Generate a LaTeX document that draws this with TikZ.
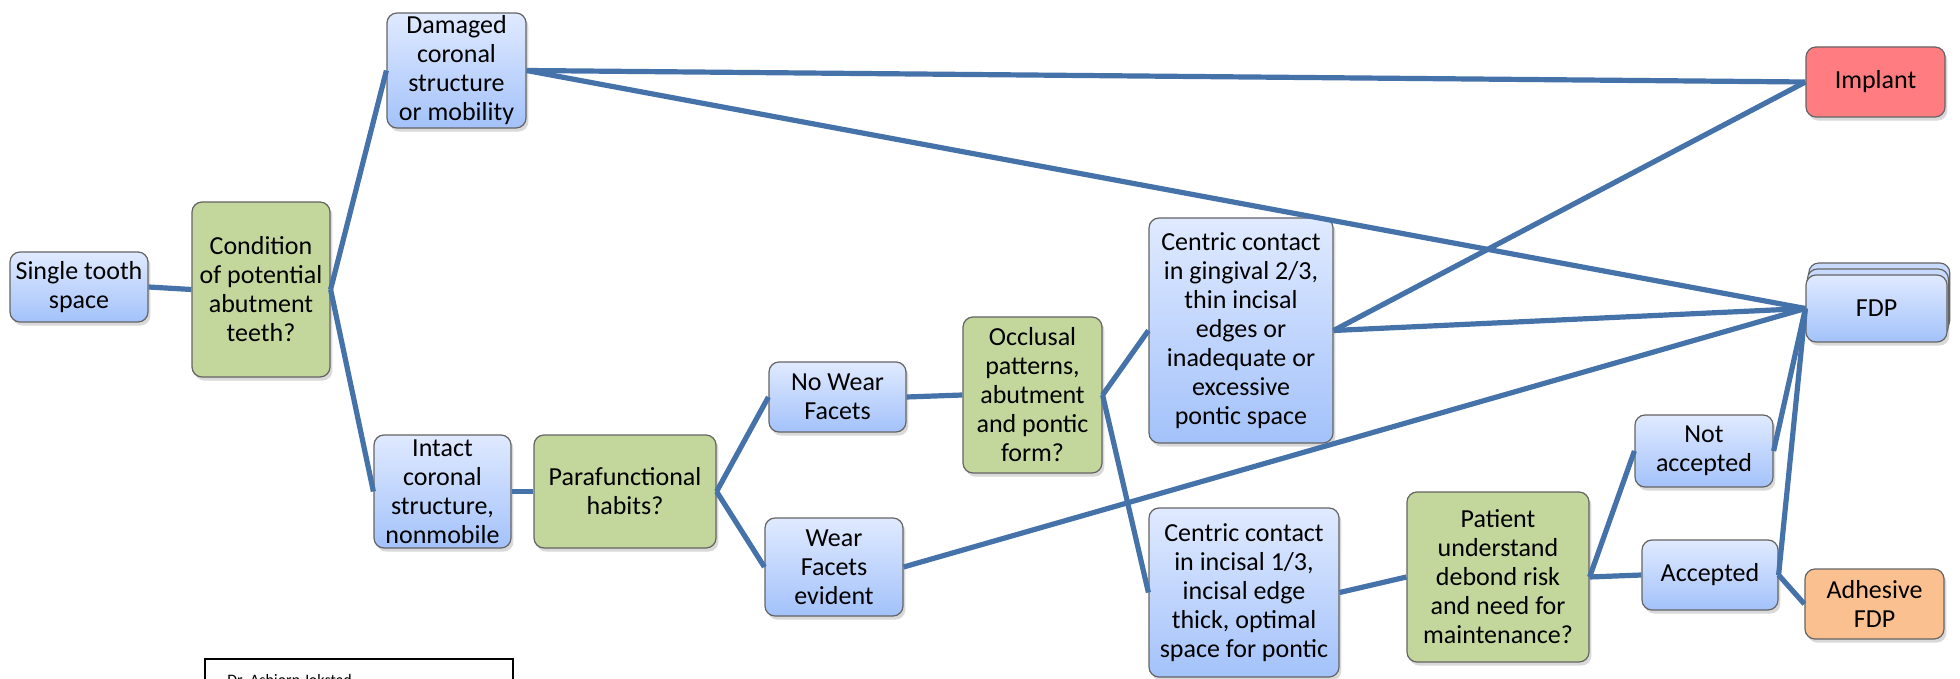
\documentclass[tikz,border=0pt]{standalone}
\usepackage{fontspec}
\setmainfont{Carlito}
\usetikzlibrary{shadows}
\definecolor{boxTop}{RGB}{224,234,255}
\definecolor{boxBottom}{RGB}{163,194,250}
\definecolor{questionGreen}{RGB}{195,214,155}
\definecolor{implantRed}{RGB}{255,124,128}
\definecolor{adhesiveOrange}{RGB}{250,192,144}
\definecolor{linkBlue}{RGB}{70,114,170}
\definecolor{rimGray}{RGB}{100,100,100}
\tikzset{
  box/.style={draw=rimGray, line width=0.6pt, rounded corners=5pt, align=center, inner sep=0pt,
    font=\fontsize{13}{14.5}\selectfont,
    drop shadow={shadow xshift=1.2pt, shadow yshift=-1.8pt, opacity=0.3}},
  answer/.style={box, top color=boxTop, bottom color=boxBottom},
  question/.style={box, fill=questionGreen},
  result/.style={box, fill=#1},
  link/.style={draw=linkBlue, line width=2.6pt},
}
\begin{document}
\begin{tikzpicture}[x=0.5pt, y=-0.5pt]
    \clip (0, 0) rectangle (1960, 679);
    \node[answer, minimum width=69pt, minimum height=35pt] (single) at (79, 287) {Single tooth\\space};
    \node[question, minimum width=69pt, minimum height=87.5pt] (condition) at (261, 289.5) {Condition\\of potential\\abutment\\teeth?};
    \node[answer, minimum width=69.5pt, minimum height=57.5pt] (damaged) at (456.5, 70.5) {Damaged\\coronal\\structure\\or mobility};
    \node[answer, minimum width=68.5pt, minimum height=56.5pt] (intact) at (442.5, 491.5) {Intact\\coronal\\structure,\\nonmobile};
    \node[question, minimum width=91pt, minimum height=56.5pt] (parafunc) at (625, 491.5) {Parafunctional\\habits?};
    \node[answer, minimum width=68.5pt, minimum height=35pt] (nowear) at (837.5, 397) {No Wear\\Facets};
    \node[answer, minimum width=69pt, minimum height=49pt] (wear) at (834, 567) {Wear\\Facets\\evident};
    \node[question, minimum width=69.5pt, minimum height=78pt] (occlusal) at (1032.5, 395) {Occlusal\\patterns,\\abutment\\and pontic\\form?};
    \node[answer, minimum width=92pt, minimum height=112.5pt] (gingival) at (1241, 330.5) {Centric contact\\in gingival 2/3,\\thin incisal\\edges or\\inadequate or\\excessive\\pontic space};
    \node[answer, minimum width=95pt, minimum height=84.5pt] (incisal) at (1244, 592.5) {Centric contact\\in incisal 1/3,\\incisal edge\\thick, optimal\\space for pontic};
    \node[question, minimum width=91pt, minimum height=85pt] (patient) at (1498, 577) {Patient\\understand\\debond risk\\and need for\\maintenance?};
    \node[answer, minimum width=69pt, minimum height=36pt] (notacc) at (1704, 451) {Not\\accepted};
    \node[answer, minimum width=68pt, minimum height=35pt] (accepted) at (1710, 575) {Accepted};
    \node[result=adhesiveOrange, minimum width=69.5pt, minimum height=35pt] (adhesive) at (1874.5, 604) {Adhesive\\FDP};
    \node[result=implantRed, minimum width=69.5pt, minimum height=35pt] (implant) at (1875.5, 82) {Implant};
    \node[answer, minimum width=70.5pt, minimum height=33.5pt,
      copy shadow={shadow xshift=1.4pt, shadow yshift=6pt, fill=boxTop!60!boxBottom, draw=rimGray},
      copy shadow={shadow xshift=0.7pt, shadow yshift=3pt, fill=boxTop!60!boxBottom, draw=rimGray}] (fdp) at (1876.5, 308.5) {FDP};
    \draw[link] (single.east) -- (condition.west);
    \draw[link] (condition.east) -- (damaged.west);
    \draw[link] (condition.east) -- (intact.west);
    \draw[link] (intact.east) -- (parafunc.west);
    \draw[link] (parafunc.east) -- (nowear.west);
    \draw[link] (parafunc.east) -- (wear.west);
    \draw[link] (nowear.east) -- (occlusal.west);
    \draw[link] (occlusal.east) -- (gingival.west);
    \draw[link] (occlusal.east) -- (incisal.west);
    \draw[link] (damaged.east) -- (implant.west);
    \draw[link] (damaged.east) -- (fdp.west);
    \draw[link] (gingival.east) -- (implant.west);
    \draw[link] (gingival.east) -- (fdp.west);
    \draw[link] (wear.east) -- (fdp.west);
    \draw[link] (incisal.east) -- (patient.west);
    \draw[link] (patient.east) -- (notacc.west);
    \draw[link] (patient.east) -- (accepted.west);
    \draw[link] (notacc.east) -- (fdp.west);
    \draw[link] (accepted.east) -- (fdp.west);
    \draw[link] (accepted.east) -- (adhesive.west);
    \draw[line width=1pt] (205, 720) |- (513, 659) -- (513, 720);
    \node[anchor=base west, inner sep=0pt, font=\fontsize{8}{9}\selectfont] (credit) at (227, 685) {Dr. Asbjorn Jokstad};
\end{tikzpicture}
\end{document}
